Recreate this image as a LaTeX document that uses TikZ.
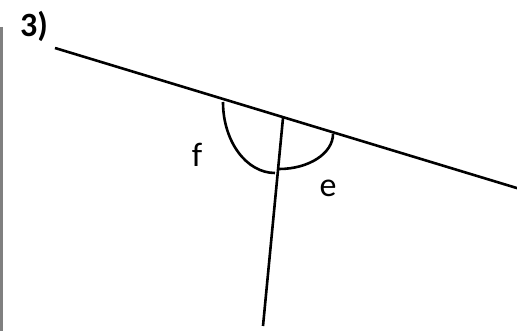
\documentclass[tikz,border=0pt]{standalone}
\usepackage{fontspec}
\setmainfont{Carlito}
\usepackage{tikz}
\usetikzlibrary{positioning}
\definecolor{barc}{HTML}{808080}
\tikzset{
  lineb/.style={draw=black,line width=2.6pt},
  arcb/.style={draw=black,line width=2.6pt},
  anglab/.style={inner sep=0pt,font=\fontsize{34}{40}\selectfont},
  numlab/.style={inner sep=0pt,font=\fontsize{34}{40}\selectfont\bfseries},
}
\begin{document}
\begin{tikzpicture}[x=1pt,y=-1pt]
  \useasboundingbox (0,0) rectangle (517,331);
  % margin bar
  \coordinate (bart) at (1.4,27);
  \coordinate (barb) at (1.4,331);
  \draw[barc,line width=2.8pt] (bart) -- (barb);
  \node[numlab] (num) at (34,26) {3)};
  % the two lines
  \coordinate (la) at (55,48);
  \coordinate (lb) at (520,189);
  \coordinate (x) at (283,118);
  \coordinate (tb) at (263,326);
  \draw[lineb] (la) -- (lb);
  \draw[lineb] (x) -- (tb);
  % angle marks
  \draw[arcb] (223,102) arc[start angle=180,end angle=90,x radius=52,y radius=71];
  \draw[arcb] (333,134) arc[start angle=0,end angle=90,x radius=54,y radius=35];
  \node[anglab] (f) at (197,155) {f};
  \node[anglab] (e) at (328,188) {e};
\end{tikzpicture}
\end{document}
